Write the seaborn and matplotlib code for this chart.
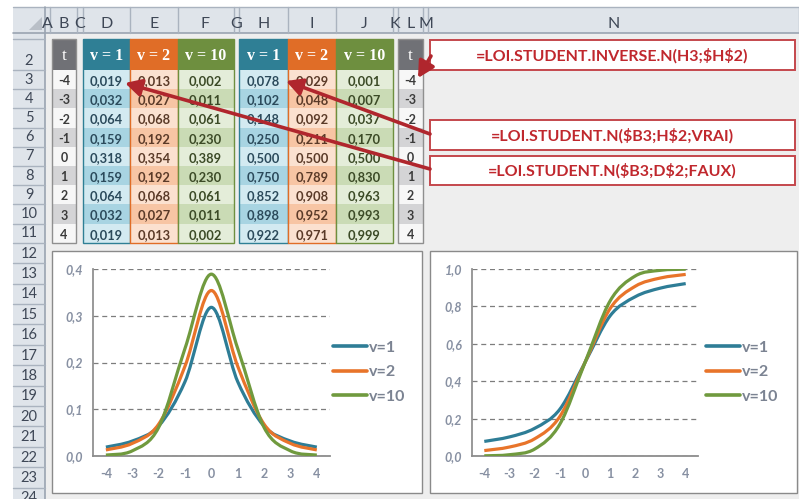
import numpy as np
import pandas as pd
import matplotlib
matplotlib.use("Agg")
import matplotlib.pyplot as plt
import seaborn as sns
from matplotlib.patches import Rectangle, Polygon, PathPatch
from matplotlib.path import Path
from matplotlib.lines import Line2D
from matplotlib.font_manager import FontProperties

# ---- data -------------------------------------------------------------
t_values = [-4, -3, -2, -1, 0, 1, 2, 3, 4]
header_labels = ["v = 1", "v = 2", "v = 10"]
legend_labels = ["v=1", "v=2", "v=10"]

pdf_v1 = [0.019, 0.032, 0.064, 0.159, 0.318, 0.159, 0.064, 0.032, 0.019]
pdf_v2 = [0.013, 0.027, 0.068, 0.192, 0.354, 0.192, 0.068, 0.027, 0.013]
pdf_v10 = [0.002, 0.011, 0.061, 0.230, 0.389, 0.230, 0.061, 0.011, 0.002]

cdf_v1 = [0.078, 0.102, 0.148, 0.250, 0.500, 0.750, 0.852, 0.898, 0.922]
cdf_v2 = [0.029, 0.048, 0.092, 0.211, 0.500, 0.789, 0.908, 0.952, 0.971]
cdf_v10 = [0.001, 0.007, 0.037, 0.170, 0.500, 0.830, 0.963, 0.993, 0.999]

pdf_yticks = [0.0, 0.1, 0.2, 0.3, 0.4]
cdf_yticks = [0.0, 0.2, 0.4, 0.6, 0.8, 1.0]

formula_inverse = "=LOI.STUDENT.INVERSE.N(H3;$H$2)"
formula_cdf = "=LOI.STUDENT.N($B3;H$2;VRAI)"
formula_pdf = "=LOI.STUDENT.N($B3;D$2;FAUX)"

column_letters = ["A", "B", "C", "D", "E", "F", "G", "H", "I", "J", "K", "L", "M", "N"]

# ---- style ------------------------------------------------------------
sns.set_theme(style="white")
plt.rcParams["font.family"] = ["Lato", "DejaVu Sans"]

W, H = 799, 499
fig = plt.figure(figsize=(W / 100, H / 100), dpi=100)
fig.patch.set_facecolor("white")

bg = fig.add_axes([0, 0, 1, 1])
bg.set_xlim(0, W)
bg.set_ylim(H, 0)
bg.axis("off")
bg.set_zorder(0)

HEAD_FILL = "#dfe4ea"
HEAD_LINE = "#aab3bf"
HEAD_TEXT = "#3e4756"
SHEET = "#eeeeee"

# worksheet area and headers
bg.add_patch(Rectangle((13, 33), W - 13, H - 33, fc=SHEET, ec="none"))
bg.add_patch(Rectangle((13, 7), W - 13, 26, fc=HEAD_FILL, ec="none"))
bg.add_patch(Rectangle((13, 33), 32, H - 33, fc=HEAD_FILL, ec="none"))
bg.plot([13, W], [7, 7], color=HEAD_LINE, lw=1)
bg.plot([13, W], [33, 33], color="#9aa4b1", lw=1.2)
bg.plot([45, 45], [7, H], color="#9aa4b1", lw=1.2)
bg.add_patch(Polygon([(29, 30), (42, 30), (42, 17)], fc="#b9bfc7", ec="none"))

col_edges = [45, 50, 77, 82.5, 130, 177.5, 233.5, 239, 288, 336, 392.5, 397.5, 423, 428, 799]
for i, letter in enumerate(column_letters):
    x0, x1 = col_edges[i], col_edges[i + 1]
    bg.plot([x1, x1], [7, 33], color=HEAD_LINE, lw=1)
    txt = bg.text((x0 + x1) / 2, 27.5, letter, ha="center", va="baseline",
                  fontsize=11.5, color=HEAD_TEXT)
    txt.set_clip_path(Rectangle((x0, 7), x1 - x0, 26, transform=bg.transData))

# row boundaries
row_edges = [33, 39, 70]
for _ in range(9):
    row_edges.append(row_edges[-1] + 19.2)
for _ in range(13):
    row_edges.append(row_edges[-1] + 20.4)
for r in range(1, len(row_edges)):
    y1 = row_edges[r]
    bg.plot([13, 45], [y1, y1], color=HEAD_LINE, lw=1)
    if r >= 2:
        txt = bg.text(29, y1 - 5.5, str(r), ha="center", va="baseline",
                      fontsize=10.5, color=HEAD_TEXT)
        txt.set_clip_path(Rectangle((13, row_edges[r - 1]), 32, y1 - row_edges[r - 1],
                                    transform=bg.transData))


def row_span(r):
    return row_edges[r - 1], row_edges[r]


# ---- tables -----------------------------------------------------------
def fmt(v, nd=3):
    return f"{v:.{nd}f}".replace(".", ",")


def draw_t_column(x0, x1):
    y0, y1 = row_span(2)
    bg.add_patch(Rectangle((x0, y0), x1 - x0, y1 - y0, fc="#707176", ec="none"))
    bg.text((x0 + x1) / 2, (y0 + y1) / 2 + 1, "t", ha="center", va="center",
            color="white", fontsize=12.5, family="Liberation Serif")
    for k, tv in enumerate(t_values):
        a, b = row_span(3 + k)
        fc = "#f7f7f7" if k % 2 == 0 else "#d4d4d6"
        bg.add_patch(Rectangle((x0, a), x1 - x0, b - a, fc=fc, ec="none"))
        bg.text((x0 + x1) / 2, (a + b) / 2 + 1.5, str(tv), ha="center", va="center",
                fontsize=9, fontweight="bold", color="#3b3b3b")
    top, bot = row_span(2)[0], row_span(11)[1]
    bg.add_patch(Rectangle((x0, top), x1 - x0, bot - top, fc="none", ec="#8f8f8f", lw=1))


groups = [
    ("#2f7f95", "#d3eaf1", "#a8d4e2", "#2b4a5b"),
    ("#e06d27", "#fbe1d0", "#f7c5a4", "#5a3a28"),
    ("#6e8f3f", "#e4edd9", "#cadbb5", "#3b4a26"),
]


def draw_value_block(x_edges, series_list):
    for j, (values, style) in enumerate(zip(series_list, groups)):
        head, light, dark, tcol = style
        x0, x1 = x_edges[j], x_edges[j + 1]
        y0, y1 = row_span(2)
        bg.add_patch(Rectangle((x0, y0), x1 - x0, y1 - y0, fc=head, ec="none"))
        bg.text((x0 + x1) / 2, (y0 + y1) / 2 + 1, header_labels[j], ha="center",
                va="center", color="white", fontsize=11.5, fontweight="bold",
                family="Liberation Serif")
        for k, v in enumerate(values):
            a, b = row_span(3 + k)
            fc = light if k % 2 == 0 else dark
            bg.add_patch(Rectangle((x0, a), x1 - x0, b - a, fc=fc, ec="none"))
            bg.text((x0 + x1) / 2, (a + b) / 2 + 1.5, fmt(v), ha="center",
                    va="center", fontsize=9.3, fontweight="bold", color=tcol)
        top, bot = row_span(2)[0], row_span(11)[1]
        bg.add_patch(Rectangle((x0, top), x1 - x0, bot - top, fc="none", ec=head, lw=1))


draw_t_column(52, 76)
draw_value_block([82.5, 130, 177.5, 233.5], [pdf_v1, pdf_v2, pdf_v10])
draw_value_block([239, 288, 336, 392.5], [cdf_v1, cdf_v2, cdf_v10])
draw_t_column(398, 423)

# ---- formula boxes and arrows ----------------------------------------
RED = "#c0272d"
for (y0, y1), text in [((40, 70), formula_inverse), ((120, 150), formula_cdf),
                       ((156, 185), formula_pdf)]:
    bg.add_patch(Rectangle((430, y0), 365, y1 - y0, fc="white", ec="#c4474c", lw=1.4))
    bg.text(612, (y0 + y1) / 2 + 0.5, text, ha="center", va="center", color=RED,
            fontsize=11.5, fontweight="bold", parse_math=False)

arrow_kw = dict(arrowstyle="-|>,head_length=0.75,head_width=0.4", color="#b0262d",
                lw=2.6, mutation_scale=13, shrinkA=0, shrinkB=0)
for tail, tip in [((431, 56), (418, 78)), ((430, 134), (286, 81)), ((430, 169), (125, 83))]:
    bg.annotate("", xy=tip, xytext=tail, arrowprops=arrow_kw)

# ---- chart frames -----------------------------------------------------
bg.add_patch(Rectangle((52, 251), 370, 242, fc="white", ec="#8a8a8a", lw=1))
bg.add_patch(Rectangle((430, 251), 367, 242, fc="white", ec="#8a8a8a", lw=1))

# ---- charts -----------------------------------------------------------
line_colors = ["#2e7d96", "#e8742a", "#709a3e"]
TICK_COLOR = "#8790a2"


def fig_box(x0, x1, ytop, ybot):
    return [x0 / W, (H - ybot) / H, (x1 - x0) / W, (ybot - ytop) / H]


def smooth_path(xy):
    # cubic Bezier through the points (Catmull-Rom tangents), like Excel's smoothed lines
    n = len(xy)
    verts, codes = [xy[0]], [Path.MOVETO]
    for i in range(n - 1):
        p0, p1 = xy[max(i - 1, 0)], xy[i]
        p2, p3 = xy[i + 1], xy[min(i + 2, n - 1)]
        verts += [p1 + (p2 - p0) / 6, p2 - (p3 - p1) / 6, p2]
        codes += [Path.CURVE4] * 3
    return Path(verts, codes)


def draw_chart(box, series, yticks, legend_x):
    ax = fig.add_axes(fig_box(*box))
    ax.set_zorder(2)
    ax.patch.set_alpha(0)
    df = pd.DataFrame({
        "t": t_values * len(series),
        "value": np.concatenate(series),
        "series": np.repeat(legend_labels, len(t_values)),
    })
    sns.lineplot(data=df, x="t", y="value", hue="series", palette=line_colors,
                 hue_order=legend_labels, errorbar=None, legend=False,
                 linewidth=2.3, ax=ax)
    for line in list(ax.get_lines()):
        patch = PathPatch(smooth_path(line.get_xydata()), fill=False,
                          edgecolor=line.get_color(), lw=line.get_linewidth(),
                          capstyle="butt", joinstyle="round", zorder=3)
        ax.add_patch(patch)
        line.remove()
    ax.set_xlim(-4.5, 4.5)
    ax.set_ylim(yticks[0], yticks[-1])
    ax.set_xticks(t_values)
    ax.set_xticklabels([str(v) for v in t_values])
    ax.set_yticks(yticks)
    ax.set_yticklabels([fmt(v, 1) for v in yticks])
    ax.set_xlabel("")
    ax.set_ylabel("")
    ax.yaxis.grid(True, linestyle=(0, (4, 3)), color="#7d7d7d", lw=0.9)
    ax.xaxis.grid(False)
    for s in ("top", "right"):
        ax.spines[s].set_visible(False)
    ax.spines["left"].set_color("#8c8c8c")
    ax.spines["bottom"].set_color("#8c8c8c")
    ax.spines["bottom"].set_linewidth(1.3)
    ax.tick_params(axis="y", direction="inout", length=6, width=1, color="#8c8c8c",
                   pad=4, labelcolor=TICK_COLOR, labelsize=9)
    ax.tick_params(axis="x", length=0, pad=9, labelcolor=TICK_COLOR, labelsize=9)
    for lab in ax.get_yticklabels():
        lab.set_fontweight("bold")
        lab.set_fontstyle("italic")
    for lab in ax.get_xticklabels():
        lab.set_fontweight("bold")
    handles = [Line2D([], [], color=c, lw=2.6) for c in line_colors]
    leg = ax.legend(handles, legend_labels, loc="center left",
                    bbox_to_anchor=(legend_x / W, (H - 372) / H),
                    bbox_transform=fig.transFigure, frameon=False, borderpad=0,
                    borderaxespad=0, handlelength=2.1, handletextpad=0.15,
                    labelspacing=0.65,
                    prop=FontProperties(family="Lato", weight="bold", size=11.5))
    for txt in leg.get_texts():
        txt.set_color("#7b8392")
    return ax


draw_chart((92.7, 330, 269, 456), [pdf_v1, pdf_v2, pdf_v10], pdf_yticks, 333)
draw_chart((471.7, 698.3, 269, 456), [cdf_v1, cdf_v2, cdf_v10], cdf_yticks, 706)

fig.savefig("out.png", dpi=100, facecolor=fig.get_facecolor())
